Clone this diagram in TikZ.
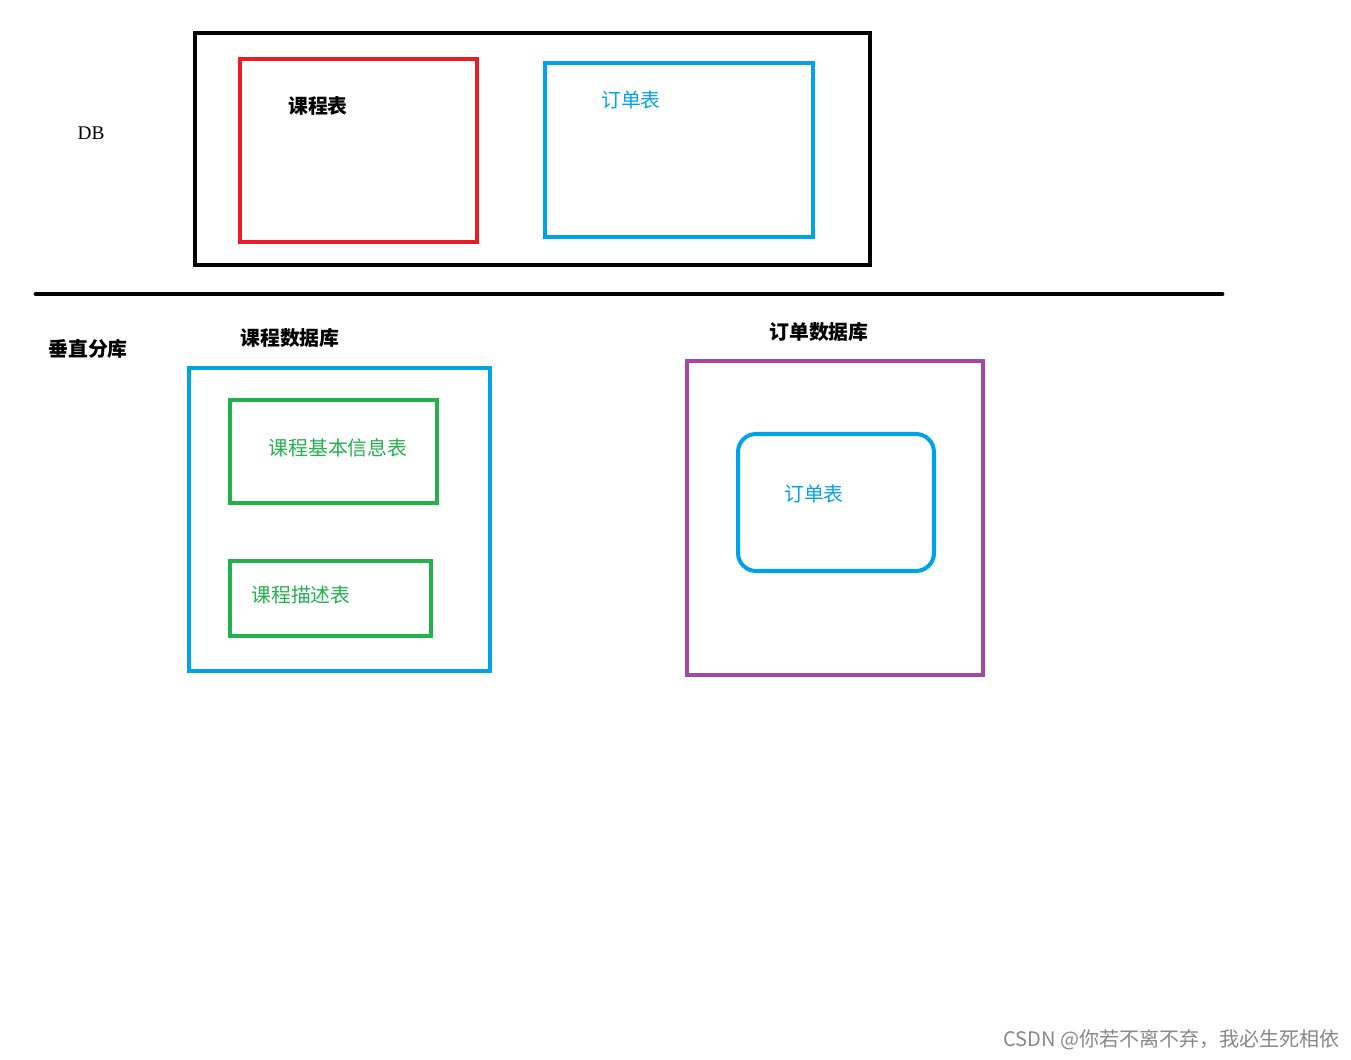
\documentclass[tikz,border=0pt]{standalone}
\usepackage{fontspec}
\newfontfamily\cjk{Noto Sans CJK SC}
\newfontfamily\dbfont{Liberation Serif}

\begin{document}
\begin{tikzpicture}[x=0.02cm,y=-0.02cm,
    box/.style={draw, line width=2.3pt, inner sep=0pt},
    txt/.style={inner sep=0pt, font=\cjk\fontsize{11.3}{13}\selectfont},
    bold/.style={txt, font=\cjk\bfseries\fontsize{11.3}{13}\selectfont}]
    \useasboundingbox (0,0) rectangle (1351,1060);
    %DB
    \node [txt, font=\dbfont\fontsize{11}{13}\selectfont] (db) at (91,133) {DB};
    \node [box, minimum width=13.5cm, minimum height=4.64cm] (dbbox) at (532.5,149) {};
    \node [box, color={rgb,255:red,237; green,28; blue,36}, minimum width=4.74cm, minimum height=3.66cm] (kcbox) at (358.5,150.5) {};
    \node [bold] (kc) at (318,106) {课程表};
    \node [box, color={rgb,255:red,0; green,162; blue,232}, minimum width=5.36cm, minimum height=3.48cm] (ddbox) at (679,150) {};
    \node [txt, text={rgb,255:red,0; green,162; blue,232}] (dd) at (631,100) {订单表};

    \coordinate (left) at (36,294);
    \coordinate (right) at (1222,294);
    \draw [line width=2.8pt, line cap=round] (left) -- (right);

    %垂直分库
    \node [bold] (cz) at (88,349) {垂直分库};
    \node [bold] (kcdb) at (290,338) {课程数据库};
    \node [box, color={rgb,255:red,0; green,162; blue,232}, minimum width=6.02cm, minimum height=6.06cm] (kcdbbox) at (339.5,519.5) {};
    \node [box, color={rgb,255:red,34; green,177; blue,76}, minimum width=4.14cm, minimum height=2.06cm] (jbbox) at (333.5,451.5) {};
    \node [txt, text={rgb,255:red,34; green,177; blue,76}] (jb) at (338,448) {课程基本信息表};
    \node [box, color={rgb,255:red,34; green,177; blue,76}, minimum width=4.02cm, minimum height=1.5cm] (msbox) at (330.5,598.5) {};
    \node [txt, text={rgb,255:red,34; green,177; blue,76}] (ms) at (301,595) {课程描述表};

    \node [bold] (dddb) at (819,332) {订单数据库};
    \node [box, color={rgb,255:red,163; green,73; blue,164}, minimum width=5.92cm, minimum height=6.28cm] (dddbbox) at (835,518) {};
    \node [box, rounded corners=0.36cm, color={rgb,255:red,0; green,162; blue,232}, minimum width=3.92cm, minimum height=2.74cm] (dd2box) at (836,502.5) {};
    \node [txt, text={rgb,255:red,0; green,162; blue,232}] (dd2) at (814,494) {订单表};

    %watermark
    \node [txt, anchor=east, text={rgb,255:red,135; green,135; blue,135}, font=\cjk\fontsize{11.4}{13}\selectfont] (csdn) at (1340,1040) {CSDN @你若不离不弃，我必生死相依};
\end{tikzpicture}
\end{document}
